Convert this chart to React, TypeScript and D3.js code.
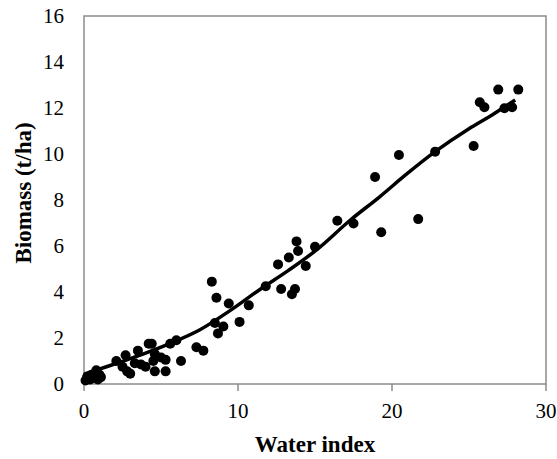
import React from "react";
import * as d3 from "d3";

const pointX = [0.1, 0.2, 0.4, 0.5, 0.8, 0.9, 1.0, 1.1, 2.1, 2.5, 2.7, 2.8, 3.0, 3.3, 3.5, 3.7, 4.0, 4.2, 4.4, 4.5, 4.6, 4.6, 5.0, 5.3, 5.3, 5.6, 6.0, 6.3, 7.3, 7.75, 8.3, 8.6, 8.5, 8.7, 9.05, 9.4, 10.1, 10.7, 11.8, 12.6, 12.8, 13.3, 13.5, 13.7, 13.8, 13.9, 14.4, 15.0, 16.45, 17.5, 18.9, 19.3, 20.45, 21.7, 22.8, 25.3, 25.7, 26.0, 26.9, 27.3, 27.8, 28.2];
const pointY = [0.15, 0.3, 0.2, 0.4, 0.6, 0.2, 0.4, 0.3, 1.0, 0.75, 1.25, 0.55, 0.45, 0.9, 1.45, 0.85, 0.75, 1.75, 1.75, 1.0, 0.55, 1.3, 1.15, 1.05, 0.55, 1.75, 1.9, 1.0, 1.6, 1.45, 4.45, 3.75, 2.65, 2.2, 2.5, 3.5, 2.7, 3.42, 4.25, 5.2, 4.13, 5.5, 3.9, 4.13, 6.2, 5.78, 5.13, 5.97, 7.1, 6.98, 9.0, 6.6, 9.96, 7.17, 10.1, 10.35, 12.25, 12.03, 12.8, 11.99, 12.03, 12.8];

const fitX = [0, 3, 5.6, 7.5, 9.5, 11.4, 13.3, 15.1, 17.3, 19.2, 20.9, 22.8, 25, 26.5, 28];
const fitY = [0.43, 1.1, 1.77, 2.35, 3.2, 4.1, 4.95, 5.83, 7.13, 8.14, 9.1, 10.1, 11.1, 11.7, 12.35];

const xTicks = [0, 10, 20, 30];
const yTicks = [0, 2, 4, 6, 8, 10, 12, 14, 16];

const xLabel = "Water index";
const yLabel = "Biomass (t/ha)";

export default function App() {
  const W = 557, H = 459;
  const left = 84, right = 546, top = 16, bottom = 384;
  const x = d3.scaleLinear().domain([0, 30]).range([left, right]);
  const y = d3.scaleLinear().domain([0, 16]).range([bottom, top]);
  const fitData = fitX.map((v, i) => [v, fitY[i]] as [number, number]);
  const line = d3.line<[number, number]>().x(d => x(d[0])).y(d => y(d[1])).curve(d3.curveMonotoneX);
  const font = "'Liberation Serif', 'Times New Roman', serif";
  const grey = "#8c8c8c";
  return (
    <svg width={W} height={H} style={{ position: "absolute", left: 0, top: 0, background: "#fff" }} fontFamily={font}>
      <rect x={left} y={top} width={right - left} height={bottom - top} fill="none" stroke={grey} strokeWidth={1.5} />
      {xTicks.map(t => (
        <g key={"x" + t}>
          <line x1={x(t)} x2={x(t)} y1={bottom} y2={bottom + 7} stroke={grey} strokeWidth={1.5} />
          <text x={x(t)} y={418} textAnchor="middle" fontSize={21} fill="#000">{t}</text>
        </g>
      ))}
      {yTicks.map(t => (
        <text key={"y" + t} x={64} y={y(t) + 7} textAnchor="end" fontSize={21} fill="#000">{t}</text>
      ))}
      {pointX.map((v, i) => (
        <circle key={i} cx={x(v)} cy={y(pointY[i])} r={5} fill="#000" />
      ))}
      <path d={line(fitData) || ""} fill="none" stroke="#000" strokeWidth={3.5} />
      <text x={(left + right) / 2} y={452} textAnchor="middle" fontSize={23} fontWeight="bold" fill="#000">{xLabel}</text>
      <text transform={`translate(31, ${(top + bottom) / 2 - 7}) rotate(-90)`} textAnchor="middle" fontSize={23} fontWeight="bold" fill="#000">{yLabel}</text>
    </svg>
  );
}
